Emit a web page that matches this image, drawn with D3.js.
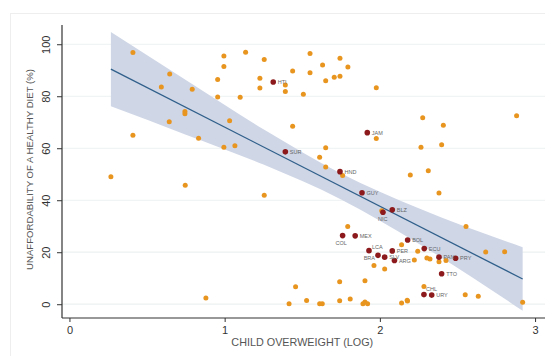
<!DOCTYPE html>
<html>
<head>
<meta charset="utf-8">
<script src="https://cdn.jsdelivr.net/npm/d3@7"></script>
<style>
  html, body { margin: 0; padding: 0; background: #fff; }
  svg { display: block; font-family: "Liberation Sans", Arial, sans-serif; }
</style>
</head>
<body>
<svg id="chart" width="545" height="356"></svg>
<script>
// Countries without a label: child overweight (log) and unaffordability (%)
const otherX = [0.267, 0.409, 0.409, 0.592, 0.643, 0.646, 0.744, 0.744, 0.746, 0.791,
  0.832, 0.879, 0.955, 0.955, 0.995, 0.995, 0.995, 1.032, 1.066, 1.100,
  1.135, 1.227, 1.227, 1.255, 1.255, 1.391, 1.391, 1.415, 1.438, 1.438,
  1.457, 1.507, 1.528, 1.550, 1.550, 1.612, 1.612, 1.629, 1.631, 1.651,
  1.651, 1.651, 1.706, 1.741, 1.741, 1.743, 1.743, 1.760, 1.793, 1.794,
  1.809, 1.891, 1.904, 1.904, 1.921, 1.962, 1.977, 1.977, 2.012, 2.031,
  2.140, 2.140, 2.176, 2.178, 2.196, 2.222, 2.244, 2.265, 2.276, 2.284,
  2.303, 2.312, 2.323, 2.381, 2.381, 2.398, 2.409, 2.426, 2.550, 2.555,
  2.634, 2.682, 2.804, 2.881, 2.920];
const otherY = [49.0, 96.8, 65.0, 83.6, 70.2, 88.6, 74.1, 73.3, 45.8, 82.7,
  63.8, 2.4, 86.4, 79.7, 95.5, 91.4, 60.4, 70.6, 61.0, 79.6,
  96.9, 86.9, 83.2, 94.1, 41.9, 84.3, 81.8, 0.2, 89.7, 68.5,
  6.7, 80.8, 1.4, 96.4, 89.0, 56.5, 0.2, 0.2, 92.0, 86.0,
  60.2, 52.8, 87.3, 8.6, 1.3, 94.6, 87.7, 49.5, 29.9, 91.2,
  2.0, 0.2, 9.0, 0.9, 0.2, 14.9, 83.3, 63.7, 36.0, 13.5,
  22.9, 0.5, 1.5, 1.2, 49.7, 17.0, 20.4, 60.4, 71.7, 6.8,
  17.8, 51.3, 17.4, 42.8, 16.3, 61.3, 68.8, 16.8, 3.6, 29.9,
  3.1, 20.1, 20.2, 72.5, 0.8];

// Latin America and the Caribbean, labelled by ISO code
const lacCodes = ["HTI", "JAM", "SUR", "HND", "GUY", "BLZ", "NIC", "COL", "MEX", "BOL",
  "ECU", "LCA", "PER", "BRA", "SLV", "PAN", "PRY", "ARG", "TTO", "CHL", "URY"];
const lacX = [1.313, 1.919, 1.391, 1.743, 1.885, 2.080, 2.020, 1.760, 1.841, 2.179,
  2.286, 1.930, 2.080, 1.988, 2.031, 2.381, 2.488, 2.094, 2.398, 2.284, 2.334];
const lacY = [85.5, 66.0, 58.6, 51.0, 42.9, 36.3, 35.4, 26.4, 26.3, 24.7,
  21.4, 20.6, 20.5, 18.8, 18.1, 18.1, 17.7, 16.8, 11.7, 3.7, 3.5];

// Linear fit with 95% confidence band
const fitX = [0.267, 2.920];
const fitY = [90.4, 9.7];
const bandX = [0.267, 0.75, 1.25, 1.75, 2.25, 2.920];
const bandLo = [76.1, 65.2, 53.7, 40.3, 23.3, -2.5];
const bandHi = [104.7, 86.2, 67.3, 50.3, 36.9, 21.9];

// Axis ticks
const xTicks = [0, 1, 2, 3];
const yTicks = [0, 20, 40, 60, 80, 100];
const xTitle = "CHILD OVERWEIGHT (LOG)";
const yTitle = "UNAFFORDABILITY OF A HEALTHY DIET (%)";

// Label placement around the labelled markers
const labelOffset = {
  NIC: [-5, 9, "start"], COL: [-7, 9, "start"], BRA: [-3, 5, "end"],
  CHL: [2, -4, "start"], LCA: [3, -2, "start"]
};

const svg = d3.select("#chart");
const plot = { left: 62, right: 545, top: 25, bottom: 318 };

const x = d3.scaleLinear().domain([-0.048, 3.064]).range([plot.left, plot.right]);
const y = d3.scaleLinear().domain([-5.3, 107.4]).range([plot.bottom, plot.top]);

// Outer graph-region frame
svg.append("rect")
  .attr("x", 10.5).attr("y", 13.5).attr("width", 560).attr("height", 360)
  .attr("fill", "none").attr("stroke", "#eeeeee").attr("stroke-width", 1);

// Horizontal gridlines
svg.append("g").selectAll("line").data(yTicks).join("line")
  .attr("x1", plot.left).attr("x2", plot.right)
  .attr("y1", d => y(d)).attr("y2", d => y(d))
  .attr("stroke", "#edf1f1").attr("stroke-width", 1.2);

// Confidence band
const bandPts = bandX.map((d, i) => ({ x: d, lo: bandLo[i], hi: bandHi[i] }));
svg.append("path").datum(bandPts)
  .attr("d", d3.area().x(d => x(d.x)).y0(d => y(d.lo)).y1(d => y(d.hi)).curve(d3.curveMonotoneX))
  .attr("fill", "#cfd6e6");

// Fitted line
svg.append("path").datum(fitX.map((d, i) => [d, fitY[i]]))
  .attr("d", d3.line().x(d => x(d[0])).y(d => y(d[1])))
  .attr("fill", "none").attr("stroke", "#2f5f8a").attr("stroke-width", 1.3);

// Other countries
svg.append("g").selectAll("circle").data(otherX.map((d, i) => [d, otherY[i]])).join("circle")
  .attr("cx", d => x(d[0])).attr("cy", d => y(d[1])).attr("r", 2.5)
  .attr("fill", "#e8951f");

// Labelled countries
const lac = lacCodes.map((c, i) => ({ code: c, x: lacX[i], y: lacY[i] }));
svg.append("g").selectAll("circle").data(lac).join("circle")
  .attr("cx", d => x(d.x)).attr("cy", d => y(d.y)).attr("r", 2.8)
  .attr("fill", "#8c1a1c");

svg.append("g").selectAll("text").data(lac).join("text")
  .attr("x", d => x(d.x) + (labelOffset[d.code] ? labelOffset[d.code][0] : 4.5))
  .attr("y", d => y(d.y) + (labelOffset[d.code] ? labelOffset[d.code][1] : 2))
  .attr("text-anchor", d => labelOffset[d.code] ? labelOffset[d.code][2] : "start")
  .attr("font-size", 5.5).attr("fill", "#666")
  .text(d => d.code);

// Y axis with vertical tick labels
const yAxis = svg.append("g").attr("transform", `translate(${plot.left},0)`)
  .call(d3.axisLeft(y).tickValues(yTicks).tickSize(5).tickFormat(d3.format("d")));
yAxis.select(".domain").attr("stroke", "#333").attr("stroke-width", 1.2)
  .attr("d", `M0,${plot.top}V${plot.bottom}`);
yAxis.selectAll(".tick line").attr("stroke", "#333");
yAxis.selectAll(".tick text")
  .attr("font-size", 11).attr("fill", "#333")
  .attr("transform", "rotate(-90)")
  .attr("x", 0).attr("y", -12).attr("dy", 0)
  .attr("text-anchor", "middle");

// X axis
const xAxis = svg.append("g").attr("transform", `translate(0,${plot.bottom})`)
  .call(d3.axisBottom(x).tickValues(xTicks).tickSize(4).tickPadding(4).tickFormat(d3.format("d")));
xAxis.select(".domain").attr("stroke", "#333").attr("stroke-width", 1.2)
  .attr("d", `M${plot.left},0H${plot.right}`);
xAxis.selectAll(".tick line").attr("stroke", "#333");
xAxis.selectAll(".tick text").attr("font-size", 11).attr("fill", "#333");

// Axis titles
svg.append("text")
  .attr("x", (x(0) + x(3)) / 2).attr("y", 345.5)
  .attr("text-anchor", "middle").attr("font-size", 10.8).attr("fill", "#555")
  .text(xTitle);
svg.append("text")
  .attr("transform", `translate(33,${(plot.top + plot.bottom) / 2 - 2}) rotate(-90)`)
  .attr("text-anchor", "middle").attr("font-size", 9.6).attr("fill", "#555")
  .text(yTitle);
</script>
</body>
</html>
